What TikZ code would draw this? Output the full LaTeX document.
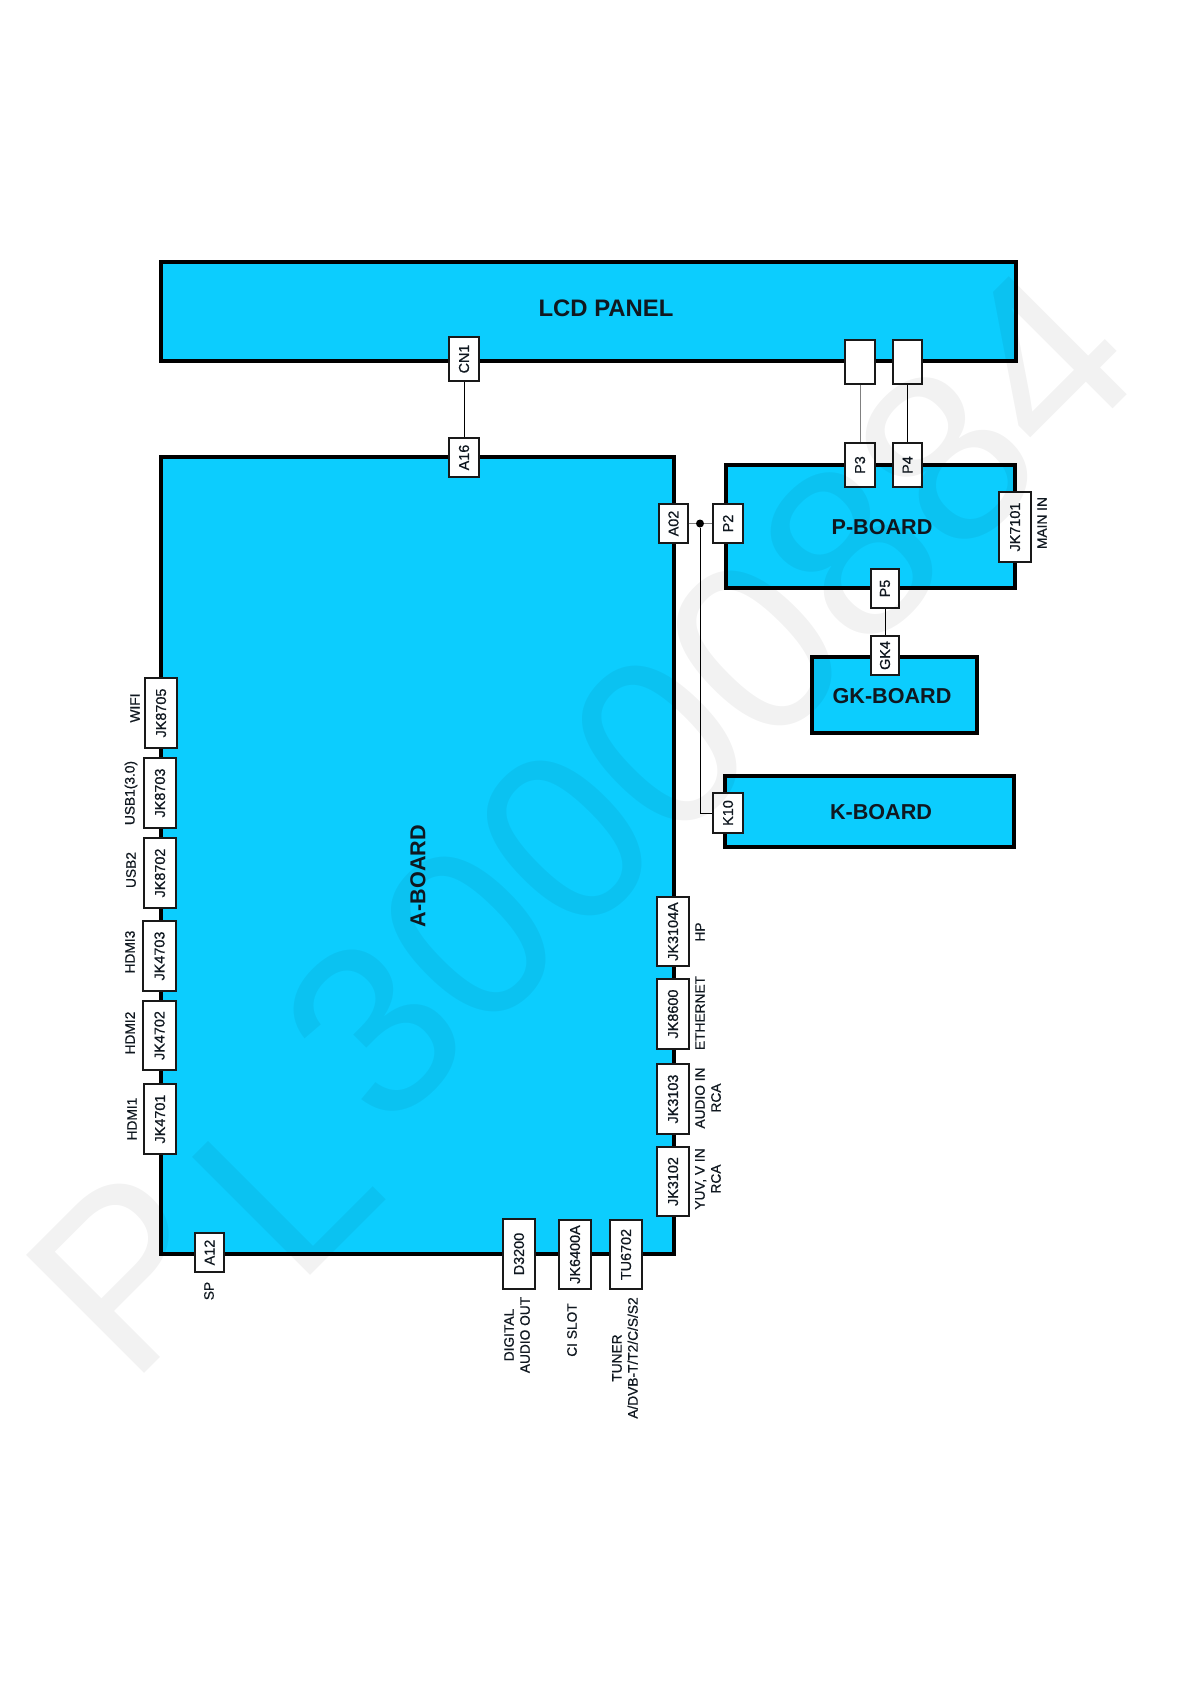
\documentclass[tikz,border=0pt]{standalone}
\usepackage{fontspec}
\setmainfont{Liberation Sans}
\newfontfamily\lblfont[FakeBold=0.6]{Liberation Sans}
\definecolor{boardblue}{HTML}{0CCDFE}
\definecolor{inkk}{HTML}{101820}
\newcommand{\port}[6]{% name x1 y1 x2 y2 text
  \pgfmathsetmacro{\cx}{(#2+#4)/2}\pgfmathsetmacro{\cy}{(#3+#5)/2}%
  \pgfmathsetmacro{\pw}{(#5-#3)*0.75}\pgfmathsetmacro{\ph}{(#4-#2)*0.75}%
  \node[portbox,minimum width=\pw pt,minimum height=\ph pt] (#1) at (\cx,\cy) {#6};}
\newcommand{\board}[5]{% name x1 y1 x2 y2
  \pgfmathsetmacro{\cx}{(#2+#4)/2}\pgfmathsetmacro{\cy}{(#3+#5)/2}%
  \pgfmathsetmacro{\ph}{(#5-#3)*0.75}\pgfmathsetmacro{\pw}{(#4-#2)*0.75}%
  \node[boardbox,minimum width=\pw pt,minimum height=\ph pt] (#1) at (\cx,\cy) {};}
\tikzset{
  portbox/.style={draw=black!90,fill=white,line width=0.95pt,inner sep=0pt,rotate=90,font=\fontsize{10.8}{12}\lblfont,text=inkk},
  boardbox/.style={draw=black,fill=boardblue,line width=2.3pt,inner sep=0pt},
  boardtitle/.style={font=\fontsize{16.2}{18}\selectfont\bfseries,text=inkk,inner sep=0pt},
  extlabel/.style={rotate=90,font=\fontsize{10.3}{12}\lblfont,text=inkk,inner sep=0pt,align=center},
  wire/.style={draw=black,line width=0.7pt},
  paleline/.style={draw=black!50,line width=0.7pt},
  junction/.style={circle,fill=black,inner sep=0pt,minimum size=6pt},
  watermark/.style={rotate=45,inner sep=0pt,text=black,text opacity=0.05,font=\fontsize{182}{190}\selectfont}
}
\begin{document}
\begin{tikzpicture}[x=0.75pt,y=-0.75pt]
\useasboundingbox (0,0) rectangle (1191,1684);
\fill[white] (0,0) rectangle (1191,1684);
% boards
\board{lcd}{161}{262}{1016}{361}
\board{aboard}{161}{457}{674}{1254}
\board{pboard}{726}{465}{1015}{588}
\board{gkboard}{812}{657}{977}{733}
\board{kboard}{725}{776}{1014}{847}
\node[boardtitle,font=\fontsize{17.9}{19}\selectfont\bfseries] (lcdt) at (606,308) {LCD PANEL};
\node[boardtitle,rotate=90] (at) at (418,876) {A-BOARD};
\node[boardtitle] (pt) at (882,527) {P-BOARD};
\node[boardtitle] (gkt) at (892,696) {GK-BOARD};
\node[boardtitle] (kt) at (881,812) {K-BOARD};
% ports
\port{cn1}{449}{337}{479}{381}{CN1}
\port{a16}{449}{438}{479}{477}{A16}
\port{pa}{845}{340}{875}{384}{}
\port{pb}{893}{340}{922}{384}{}
\port{p3}{845}{443}{875}{487}{P3}
\port{p4}{893}{443}{922}{487}{P4}
\port{a02}{659}{504}{688}{543}{A02}
\port{p2}{713}{504}{743}{543}{P2}
\port{k10}{713}{793}{743}{833}{K10}
\port{jk7101}{999}{492}{1031}{562}{JK7101}
\port{p5}{871}{569}{899}{608}{P5}
\port{gk4}{871}{636}{899}{675}{GK4}
\port{jk8705}{145}{678}{177}{748}{JK8705}
\port{jk8703}{144}{758}{176}{828}{JK8703}
\port{jk8702}{144}{838}{176}{908}{JK8702}
\port{jk4703}{143}{921}{176}{991}{JK4703}
\port{jk4702}{143}{1001}{176}{1070}{JK4702}
\port{jk4701}{144}{1084}{176}{1154}{JK4701}
\port{a12}{195}{1233}{224}{1272}{A12}
\port{jk3104}{657}{897}{689}{966}{JK3104A}
\port{jk8600}{657}{979}{689}{1049}{JK8600}
\port{jk3103}{657}{1064}{689}{1134}{JK3103}
\port{jk3102}{657}{1147}{689}{1216}{JK3102}
\port{d3200}{503}{1219}{535}{1289}{D3200}
\port{jk6400}{559}{1220}{591}{1289}{JK6400A}
\port{tu6702}{610}{1220}{642}{1289}{TU6702}
% connectors
\node[junction] (j) at (700,523.5) {};
\draw[wire] (cn1) -- (a16);
\draw[paleline] (pa) -- (p3);
\draw[wire] (pb) -- (p4);
\draw[wire] (p5) -- (gk4);
\draw[paleline] (a02) -- (j);
\draw[paleline] (j) -- (p2);
\draw[wire] (j) |- (k10);
% outer labels
\node[extlabel] (lmain) at (1042,523) {MAIN IN};
\node[extlabel] (lwifi) at (135,708) {WIFI};
\node[extlabel] (lusb1) at (131,793) {USB1(3.0)};
\node[extlabel] (lusb2) at (131,870) {USB2};
\node[extlabel] (lh3) at (130,952) {HDMI3};
\node[extlabel] (lh2) at (130,1033) {HDMI2};
\node[extlabel] (lh1) at (132,1119) {HDMI1};
\node[extlabel] (lsp) at (209,1291) {SP};
\node[extlabel] (lhp) at (700,932) {HP};
\node[extlabel] (leth) at (700,1013) {ETHERNET};
\node[extlabel] (laud) at (708,1098) {AUDIO IN\\RCA};
\node[extlabel] (lyuv) at (708,1179) {YUV, V IN\\RCA};
\node[extlabel] (ldig) at (517,1335) {DIGITAL\\AUDIO OUT};
\node[extlabel] (lci) at (572,1330) {CI SLOT};
\node[extlabel] (ltun) at (625,1358) {TUNER\\A/DVB-T/T2/C/S/S2};
% watermark
\node[watermark,anchor=base west] (wmp) at (130,1388) {P};
\node[watermark,anchor=base west] (wml) at (296,1290) {L};
\node[watermark] (wmn) at (708,696) {30000884};
\end{tikzpicture}
\end{document}
